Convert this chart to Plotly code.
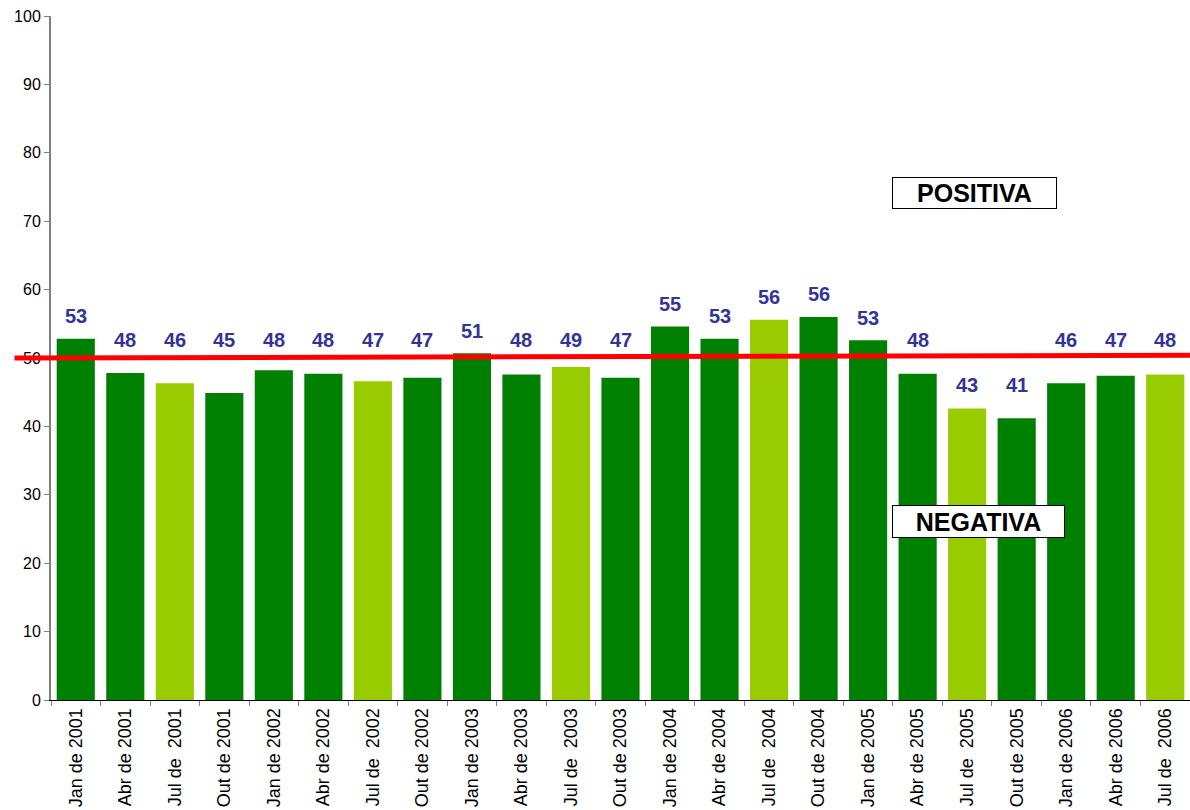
import plotly.graph_objects as go

# Quarterly survey readings, Jan 2001 - Jul 2006
periods = [
    "Jan de 2001", "Abr de 2001", "Jul de\u00a0 2001", "Out de 2001",
    "Jan de 2002", "Abr de 2002", "Jul de\u00a0 2002", "Out de 2002",
    "Jan de 2003", "Abr de 2003", "Jul de\u00a0 2003", "Out de 2003",
    "Jan de 2004", "Abr de 2004", "Jul de\u00a0 2004", "Out de 2004",
    "Jan de 2005", "Abr de 2005", "Jul de\u00a0 2005", "Out de 2005",
    "Jan de 2006", "Abr de 2006", "Jul de\u00a0 2006",
]
values = [
    52.8, 47.8, 46.3, 44.9,
    48.2, 47.7, 46.6, 47.1,
    50.7, 47.6, 48.7, 47.1,
    54.6, 52.8, 55.6, 56.0,
    52.6, 47.7, 42.6, 41.2,
    46.3, 47.4, 47.6,
]
neutral_level = 50

DARK = "#008000"
LIGHT = "#99CC00"
colors = [LIGHT if p.startswith("Jul") else DARK for p in periods]

fig = go.Figure()
fig.add_trace(go.Bar(
    x=periods, y=values, marker=dict(color=colors, line=dict(width=0)),
    hoverinfo="x+y",
))

# value labels above the bars (kept clear of the 50 reference line)
annotations = []
for p, v in zip(periods, values):
    if v > neutral_level:
        ly = v + 3.3
    elif v >= 44:
        ly = 52.6
    else:
        ly = 46.1
    annotations.append(dict(
        x=p, y=ly, xref="x", yref="y", text=f"<b>{v:.0f}</b>", showarrow=False,
        font=dict(family="Arial, Liberation Sans, sans-serif", size=20, color="#333399"),
        xanchor="center", yanchor="middle",
    ))

box_font = dict(family="Arial, Liberation Sans, sans-serif", size=25, color="black")
annotations.append(dict(
    x=0.811, y=0.741, xref="paper", yref="paper", text="<b>POSITIVA</b>", showarrow=False,
    xanchor="center", yanchor="middle",
    font=box_font, bgcolor="white", bordercolor="black", borderwidth=1,
    width=161, height=28, borderpad=1,
))
annotations.append(dict(
    x=0.8143, y=0.261, xref="paper", yref="paper", text="<b>NEGATIVA</b>", showarrow=False,
    xanchor="center", yanchor="middle",
    font=box_font, bgcolor="white", bordercolor="black", borderwidth=1,
    width=169, height=29, borderpad=1,
))

fig.update_layout(
    width=1190, height=810,
    margin=dict(l=51, r=0, t=16, b=110),
    paper_bgcolor="white", plot_bgcolor="white",
    bargap=0.23,
    showlegend=False,
    annotations=annotations,
    shapes=[dict(
        type="line", xref="paper", yref="y",
        x0=-0.032, y0=neutral_level, x1=1.0, y1=neutral_level + 0.4,
        line=dict(color="#FF0000", width=5), layer="above",
    )],
    font=dict(family="Arial, Liberation Sans, sans-serif", color="black"),
)

fig.update_yaxes(
    range=[0, 100], dtick=10, showgrid=False, zeroline=False,
    showline=True, linecolor="#808080", linewidth=2,
    ticks="outside", ticklen=5, tickcolor="#808080", tickwidth=1,
    tickfont=dict(size=16, color="black"),
)
fig.update_xaxes(
    type="category", tickson="boundaries", tickangle=-90,
    showline=True, linecolor="black", linewidth=1,
    ticks="outside", ticklen=5, tickcolor="#808080", tickwidth=1,
    tickfont=dict(size=18, color="black"),
    showgrid=False,
)

fig.write_html("out.html")
